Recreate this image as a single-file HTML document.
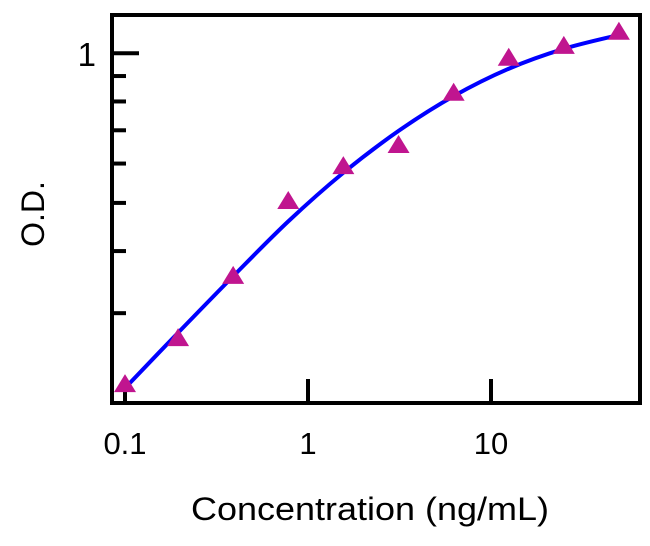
<!DOCTYPE html>
<html><head><meta charset="utf-8"><style>
body{margin:0;background:#fff;}
svg{display:block;font-family:"Liberation Sans",Arial,sans-serif;}
</style></head><body>
<svg id="chart" width="650" height="546">
<g id="axes"></g><g id="curve"></g><g id="points"></g>
<text x="44" y="214" font-size="32" text-anchor="middle" transform="rotate(-90 44 214)">O.D.</text>
<text x="370" y="520" font-size="32" text-anchor="middle" textLength="358" lengthAdjust="spacingAndGlyphs">Concentration (ng/mL)</text>
</svg>
<script>
const concentrations=[0.1,0.195,0.39,0.78,1.56,3.125,6.25,12.5,25,50];
const odValues=[0.215,0.266,0.355,0.502,0.590,0.651,0.829,0.975,1.03,1.10];
const curveX=[0.1,0.195,0.39,0.78,1.56,3.125,6.25,12.5,25,50];
const curveY=[0.212,0.274,0.356,0.459,0.575,0.698,0.820,0.931,1.021,1.089];
const xTickVals=[0.1,1,10];
const xTickLabels=["0.1","1","10"];
const yMinorTicks=[0.9,0.8,0.7,0.6,0.5,0.4,0.3];
const L=112,R=640,T=15,B=403;
const NS="http://www.w3.org/2000/svg";
function sx(v){return 125+183*Math.log10(v/0.1);}
function sy(v){return 53.3-497*Math.log10(v);}
function mk(t,a,p){const e=document.createElementNS(NS,t);for(const k in a)e.setAttribute(k,a[k]);document.getElementById(p).appendChild(e);return e;}
let f=mk('rect',{x:L,y:T,width:R-L,height:B-T,fill:'none',stroke:'#000','stroke-width':4},'axes');


xTickVals.forEach((v,i)=>{
 let t=mk('line',{x1:sx(v),x2:sx(v),y1:B,y2:B-24,stroke:'#000','stroke-width':4},'axes');
 
 
 let l=mk('text',{x:sx(v),y:454,'font-size':31,'text-anchor':'middle'},'axes');
 l.textContent=xTickLabels[i];
 
 
});
let m=mk('line',{x1:L,x2:L+27,y1:sy(1),y2:sy(1),stroke:'#000','stroke-width':4},'axes');


let yl=mk('text',{x:96,y:66,'font-size':33,'text-anchor':'end'},'axes');
yl.textContent="1";


yMinorTicks.forEach(v=>{
 let t=mk('line',{x1:L,x2:L+14,y1:sy(v),y2:sy(v),stroke:'#000','stroke-width':4},'axes');
 
 
});
const pts=curveX.map((x,i)=>[sx(x),sy(curveY[i])]);
let d='M'+pts[0][0]+','+pts[0][1];
for(let i=0;i<pts.length-1;i++){
 const p0=pts[Math.max(0,i-1)],p1=pts[i],p2=pts[i+1],p3=pts[Math.min(pts.length-1,i+2)];
 d+=' C'+(p1[0]+(p2[0]-p0[0])/6)+','+(p1[1]+(p2[1]-p0[1])/6)+' '+(p2[0]-(p3[0]-p1[0])/6)+','+(p2[1]-(p3[1]-p1[1])/6)+' '+p2[0]+','+p2[1];
}
concentrations.forEach((c,i)=>{
 const x=sx(c),y=sy(odValues[i]);
 let p=mk('polygon',{points:`${x},${y-11} ${x-11},${y+7} ${x+11},${y+7}`,fill:'#c0158f'},'points');
 
 
});
let c=mk('path',{d:d,fill:'none',stroke:'#0000ff','stroke-width':4},'curve');


</script>
</body></html>
